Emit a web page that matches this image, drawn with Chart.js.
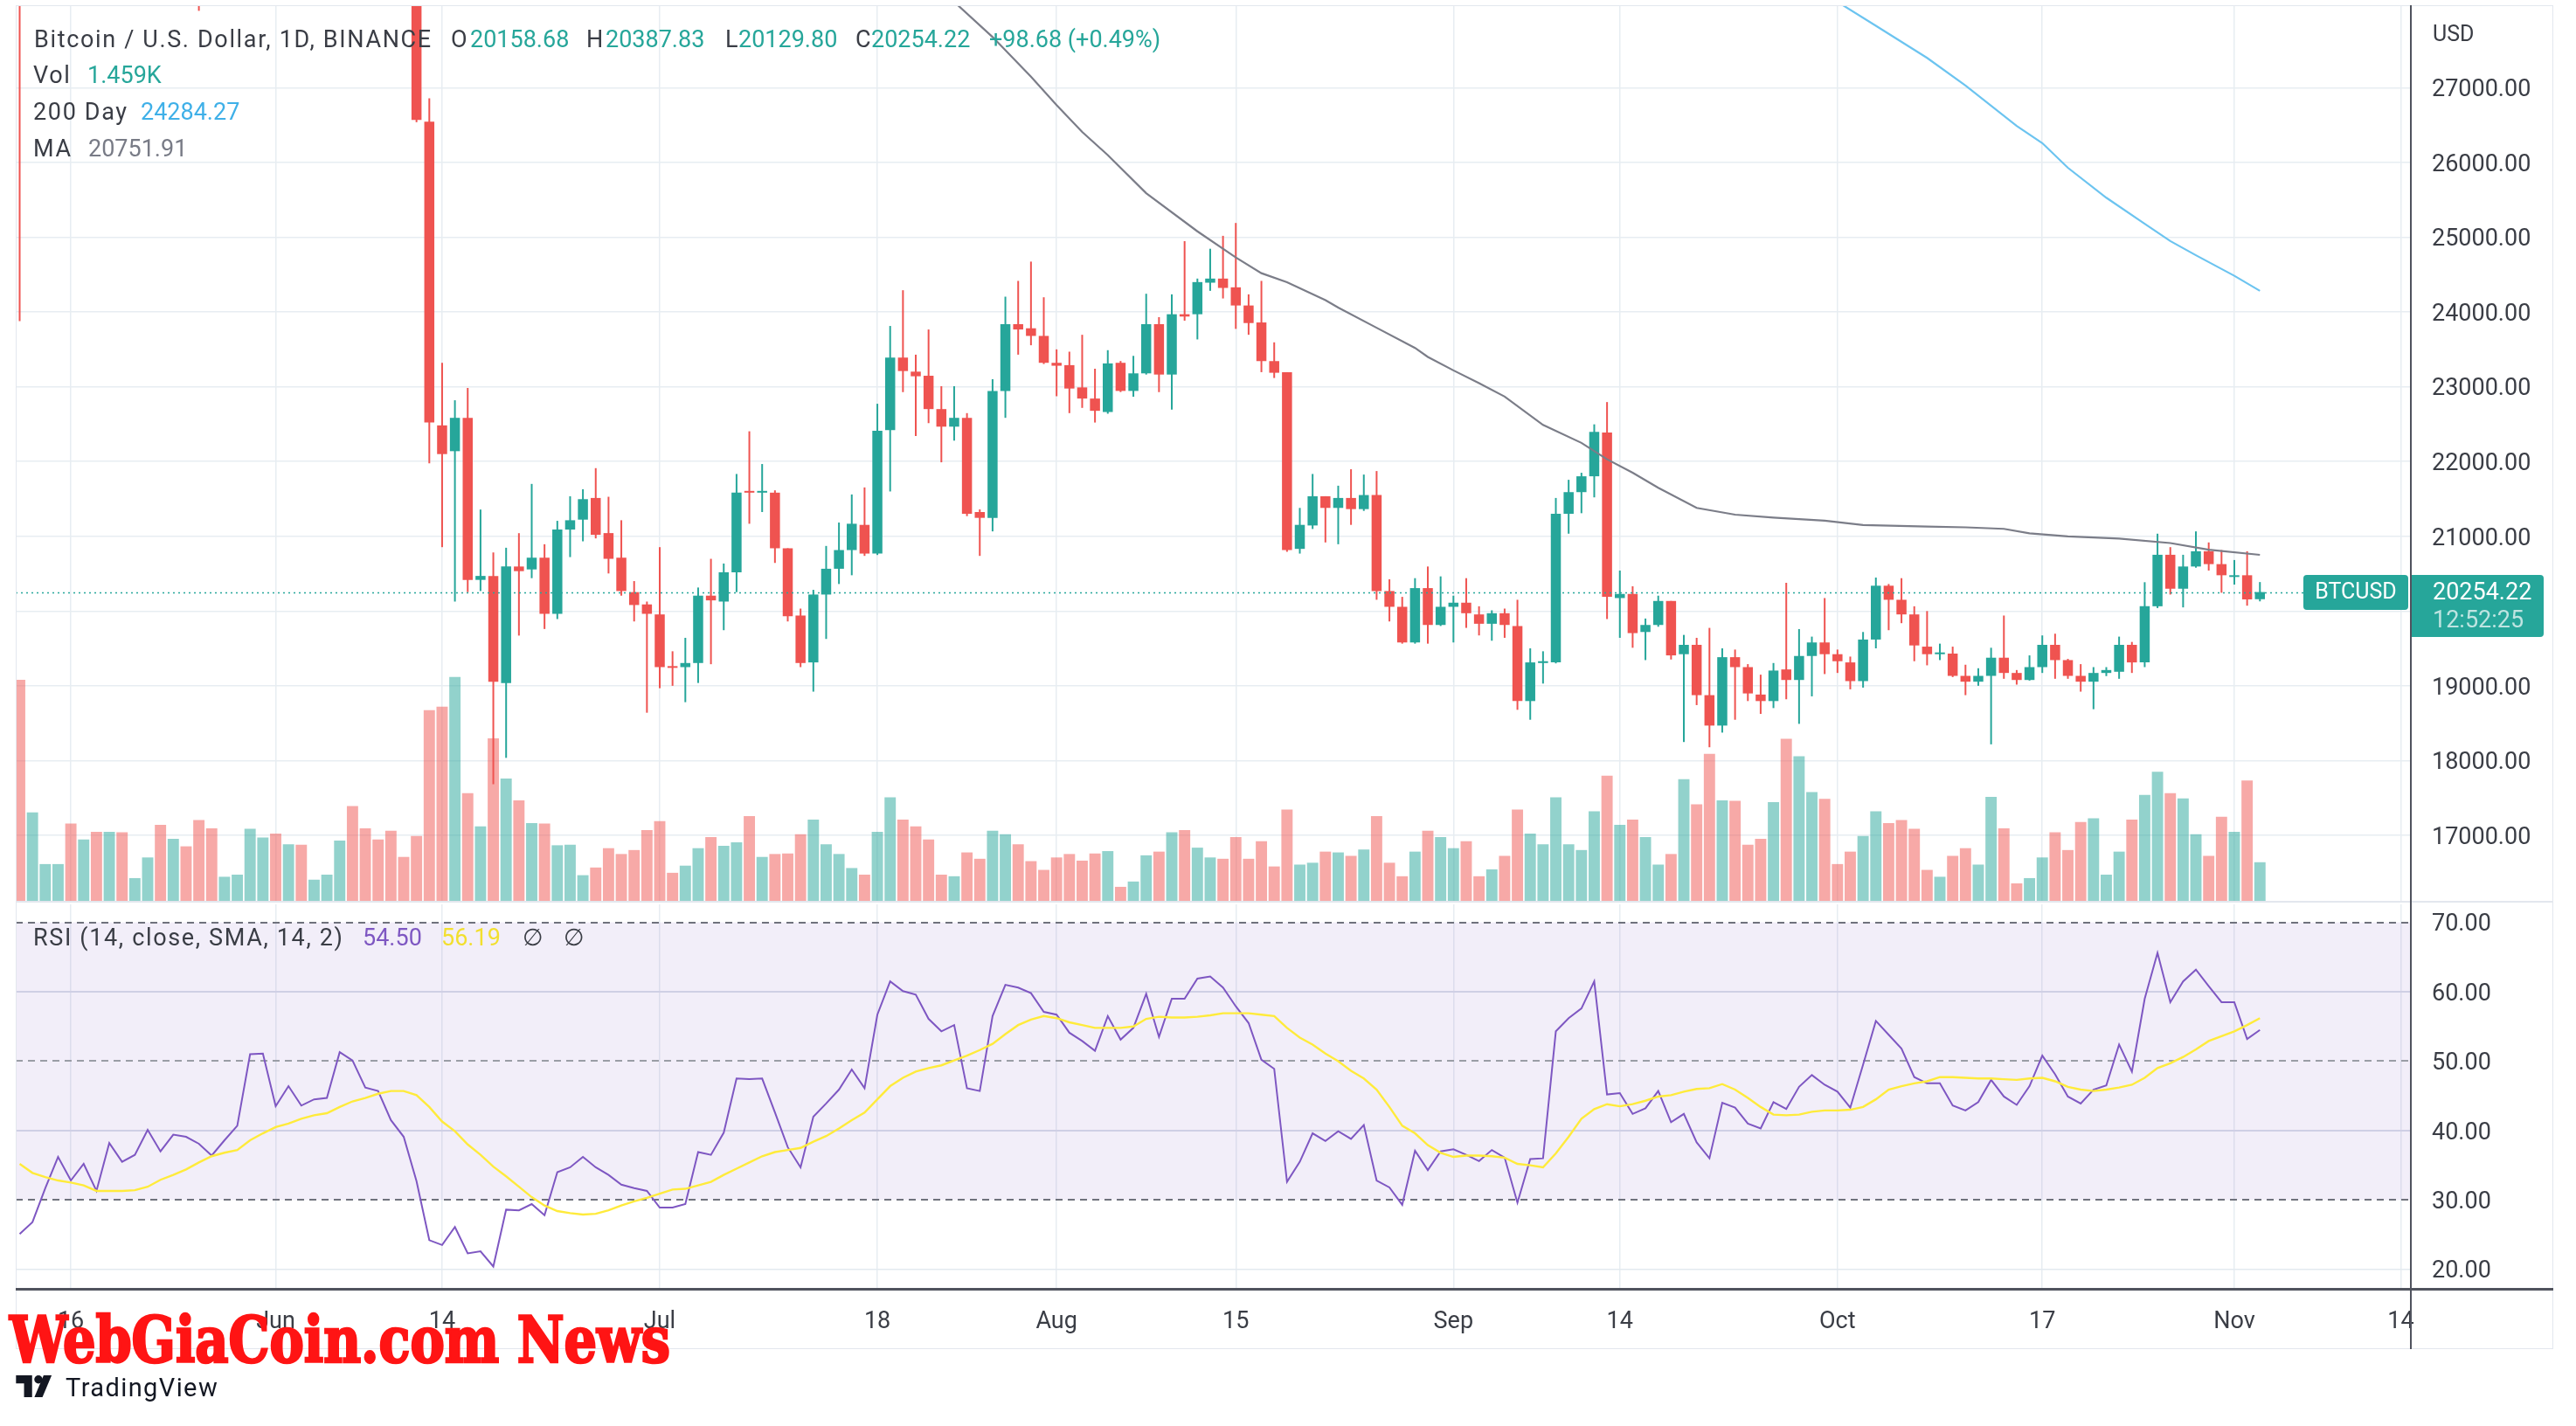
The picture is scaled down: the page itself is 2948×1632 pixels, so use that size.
<!DOCTYPE html>
<html>
<head>
<meta charset="utf-8">
<script src="https://cdn.jsdelivr.net/npm/chart.js@4.4.0/dist/chart.umd.min.js"></script>
<style>
  html, body { margin: 0; padding: 0; background: #fff; overflow: hidden; }
  #wrap { position: relative; width: 2948px; height: 1632px; overflow: hidden; font-family: Roboto, 'DejaVu Sans', sans-serif; }
  canvas { position: absolute; left: 0; }
  .t { position: absolute; font-size: 27px; line-height: 32px; white-space: nowrap; color: #3a3d45; }
  .sp { letter-spacing: 1.65px; }
  .ln { position: absolute; }
  #mark { position: absolute; left: 11px; top: 1494px; font-family: 'DejaVu Serif Condensed', 'DejaVu Serif', serif;
          font-stretch: condensed; font-weight: bold; font-size: 72px; line-height: 80px; color: #ff1414;
          -webkit-text-stroke: 2.6px #ff1414; white-space: nowrap; transform-origin: 0 0; }
  #tv { position: absolute; left: 75px; top: 1571px; font-size: 29px; line-height: 34px; letter-spacing: 1.4px; color: #131722; }
</style>
</head>
<body>
<div id="wrap">
  <canvas id="main" width="2948" height="1033" style="top:0"></canvas>
  <canvas id="rsi" width="2948" height="599" style="top:1033px"></canvas>
  <div class="ln" style="left:18px;top:6px;width:2902px;height:1536px;border:1.5px solid #e3e7ee"></div>
  <div class="ln" style="left:18px;top:1031px;width:2904px;height:2px;background:#e3e7ee"></div>
  <div class="ln" style="left:2758px;top:6px;width:1.5px;height:1538px;background:#50535e"></div>
  <div class="ln" style="left:18px;top:1474px;width:2904px;height:3px;background:#50535e"></div>
  <div id="mark">WebGiaCoin.com News</div>
  <svg style="position:absolute;left:18px;top:1574px" width="48" height="25" viewBox="0 0 36 19">
    <path d="M0 0h14v19H7V7H0z" fill="#131722"/>
    <circle cx="19.5" cy="3.6" r="3.6" fill="#131722"/>
    <path d="M16 19L24 0h7l-8 19z" fill="#131722"/>
  </svg>
  <div id="tv">TradingView</div>
</div>
<script>
// daily candles, index 0 = 12 May 2022, index 175 = 3 Nov 2022
const open = [
  29080, 29030, 29283, 30101, 31305, 29862, 30425, 28715, 30319, 29200,
  29432, 30323, 29098, 29655, 29542, 29201, 28629, 29031, 29468, 31734,
  31801, 29805, 30452, 29700, 29864, 29920, 31373, 31125, 30204, 30109,
  29091, 28424, 26547, 22484, 22139, 22585, 20417, 20470, 19038, 20596,
  20557, 20714, 19963, 21090, 21223, 21513, 21043, 20714, 20253, 20089,
  19955, 19250, 19250, 19305, 20206, 20127, 20519, 21600, 21584, 21584,
  20840, 19940, 19313, 20221, 20566, 20816, 21153, 20769, 22420, 23391,
  23203, 23148, 22702, 22467, 22585, 21325, 21247, 22945, 23838, 23783,
  23681, 23321, 23290, 22992, 22843, 22663, 23321, 22945, 23180, 23838,
  23164, 23971, 23971, 24393, 24448, 24331, 24088, 23861, 23344, 23196,
  20832, 21145, 21536, 21380, 21513, 21364, 21552, 20268, 20057, 19580,
  20307, 19814, 20057, 20112, 19955, 19830, 19971, 19798, 18796, 19305,
  19313, 21301, 21591, 21803, 22389, 20174, 20229, 19720, 19814, 20135,
  19423, 19548, 18875, 18468, 19383, 19250, 18883, 18796, 19219, 19078,
  19399, 19580, 19423, 19313, 19063, 19619, 20339, 20151, 19955, 19524,
  19423, 19431, 19133, 19055, 19133, 19376, 19172, 19078, 19250, 19548,
  19344, 19133, 19055, 19172, 19188, 19548, 19313, 20064, 20753, 20299,
  20596, 20800, 20628, 20456, 20479, 20158.68
];
const high = [
  30030, 30976, 30300, 31460, 31305, 31000, 30670, 30545, 30777, 29600,
  30487, 30670, 29830, 30220, 29860, 29395, 29250, 29540, 32222, 32399,
  31982, 30670, 30690, 29950, 30180, 31765, 31549, 31330, 30700, 30330,
  29440, 28560, 26859, 23321, 22820, 22985, 21358, 20783, 20847, 21042,
  21701, 20894, 21207, 21536, 21630, 21912, 21529, 21215, 20401, 20127,
  20855, 19462, 19642, 20315, 20699, 20636, 21834, 22405, 21967, 21615,
  20840, 20033, 20284, 20871, 21184, 21560, 21654, 22773, 23814, 24292,
  23430, 23767, 23008, 23008, 22648, 21360, 23102, 24206, 24417, 24675,
  24198, 23501, 23470, 23696, 23242, 23490, 23345, 23414, 24245, 23932,
  24237, 24949, 24448, 24847, 25020, 25192, 24237, 24417, 23595, 23196,
  21380, 21834, 21536, 21677, 21897, 21826, 21873, 20425, 20190, 20440,
  20596, 20464, 20206, 20440, 20064, 20010, 20033, 20151, 19501, 19462,
  21513, 21756, 21850, 22498, 22796, 20542, 20331, 19900, 20206, 20135,
  19681, 19642, 19775, 19501, 19485, 19290, 19149, 19305, 20378, 19759,
  19658, 20174, 19485, 19391, 19720, 20448, 20362, 20440, 20064, 20000,
  19564, 19524, 19282, 19235, 19509, 19940, 19211, 19407, 19674, 19697,
  19360, 19290, 19250, 19250, 19658, 19587, 20386, 21035, 20855, 20753,
  21066, 20918, 20816, 20683, 20800, 20387.83
];
const low = [
  23880, 28751, 28600, 29480, 29090, 29440, 28650, 28690, 28730, 28950,
  29230, 28890, 28630, 29300, 28030, 28280, 28500, 28850, 29300, 31200,
  29360, 29600, 29300, 29480, 29500, 29880, 29218, 29850, 29940, 28850,
  28150, 26540, 21976, 20855, 20127, 20253, 20268, 17684, 18036, 19672,
  20440, 19760, 19893, 20722, 20933, 20972, 20503, 20206, 19861, 18640,
  18968, 19000, 18781, 19038, 19289, 19744, 20253, 21168, 21325, 20644,
  19861, 19250, 18922, 19627, 20362, 20479, 20738, 20750, 21600, 22929,
  22342, 22514, 21990, 22280, 21270, 20738, 21066, 22585, 23430, 23556,
  23305, 22874, 22648, 22718, 22522, 22640, 22930, 22867, 23164, 22929,
  22695, 23885, 23634, 24284, 24182, 23775, 23696, 23196, 23118, 20793,
  20769, 21098, 20918, 20894, 21153, 21340, 20151, 19861, 19564, 19564,
  19564, 19800, 19580, 19775, 19674, 19603, 19642, 18679, 18546, 19030,
  19300, 21035, 21309, 21521, 19893, 19642, 19509, 19344, 19790, 19352,
  18248, 18742, 18178, 18374, 18546, 18796, 18624, 18702, 18820, 18491,
  18859, 19157, 19172, 18953, 18976, 19501, 19744, 19838, 19329, 19274,
  19344, 19117, 18875, 19000, 18217, 19094, 19016, 19070, 19172, 19094,
  19094, 18922, 18687, 19130, 19094, 19172, 19250, 20040, 20221, 20049,
  20580, 20542, 20245, 20354, 20072, 20129.80
];
const close = [
  29030, 29283, 30101, 31305, 29862, 30425, 28715, 30319, 29200, 29432,
  30323, 29098, 29655, 29542, 29201, 28629, 29031, 29468, 31734, 31801,
  29805, 30452, 29700, 29864, 29920, 31373, 31125, 30204, 30109, 29091,
  28424, 26570, 22523, 22100, 22585, 20417, 20470, 19053, 20596, 20534,
  20714, 19963, 21090, 21215, 21497, 21020, 20699, 20268, 20081, 19963,
  19250, 19240, 19305, 20206, 20143, 20519, 21584, 21584, 21600, 20840,
  19932, 19305, 20221, 20566, 20816, 21168, 20769, 22412, 23391, 23211,
  23141, 22702, 22467, 22585, 21301, 21247, 22945, 23838, 23767, 23681,
  23321, 23282, 22977, 22843, 22679, 23313, 22945, 23180, 23838, 23164,
  23971, 23940, 24401, 24448, 24323, 24088, 23853, 23344, 23188, 20816,
  21153, 21536, 21380, 21513, 21364, 21552, 20268, 20057, 19580, 20307,
  19814, 20057, 20112, 19971, 19830, 19971, 19814, 18796, 19313, 19329,
  21301, 21591, 21803, 22397, 20190, 20229, 19705, 19814, 20135, 19407,
  19548, 18875, 18468, 19383, 19250, 18898, 18796, 19204, 19078, 19399,
  19580, 19423, 19329, 19063, 19619, 20339, 20151, 19955, 19540, 19423,
  19446, 19133, 19055, 19133, 19376, 19172, 19078, 19250, 19548, 19344,
  19133, 19055, 19172, 19211, 19548, 19313, 20064, 20753, 20299, 20596,
  20800, 20628, 20479, 20479, 20155.54, 20254.22
];
// volume in thousands of BTC
const volume = [
  8.35, 3.34, 1.39, 1.39, 2.92, 2.32, 2.61, 2.61, 2.59, 0.86,
  1.64, 2.87, 2.34, 2.06, 3.05, 2.74, 0.91, 0.99, 2.72, 2.39,
  2.54, 2.14, 2.12, 0.80, 0.99, 2.28, 3.58, 2.74, 2.32, 2.65,
  1.66, 2.45, 7.20, 7.34, 8.46, 4.07, 2.81, 6.14, 4.62, 3.80,
  2.94, 2.92, 2.10, 2.12, 0.97, 1.26, 1.99, 1.77, 1.92, 2.67,
  3.01, 1.06, 1.33, 1.99, 2.41, 2.08, 2.21, 3.20, 1.66, 1.77,
  1.79, 2.52, 3.07, 2.14, 1.77, 1.24, 0.99, 2.61, 3.91, 3.07,
  2.81, 2.32, 0.99, 0.93, 1.83, 1.59, 2.65, 2.52, 2.14, 1.50,
  1.17, 1.64, 1.77, 1.52, 1.79, 1.88, 0.53, 0.73, 1.72, 1.86,
  2.59, 2.67, 2.01, 1.64, 1.59, 2.41, 1.59, 2.25, 1.30, 3.45,
  1.37, 1.44, 1.86, 1.83, 1.70, 1.94, 3.20, 1.44, 0.93, 1.86,
  2.65, 2.41, 1.99, 2.25, 0.93, 1.19, 1.70, 3.45, 2.54, 2.14,
  3.91, 2.14, 1.92, 3.38, 4.73, 2.87, 3.07, 2.41, 1.37, 1.77,
  4.60, 3.65, 5.55, 3.80, 3.78, 2.12, 2.34, 3.73, 6.12, 5.46,
  4.11, 3.85, 1.39, 1.86, 2.45, 3.38, 2.94, 3.05, 2.72, 1.17,
  0.91, 1.70, 1.99, 1.37, 3.93, 2.74, 0.66, 0.86, 1.64, 2.59,
  1.92, 2.98, 3.12, 0.99, 1.86, 3.07, 4.00, 4.88, 4.07, 3.87,
  2.52, 1.70, 3.18, 2.61, 4.55, 1.459
];
const rsi = [
  25.1, 26.8, 31.7, 36.2, 32.8, 35.2, 31.3, 38.2, 35.5, 36.5,
  40.1, 37.0, 39.4, 39.1, 38.1, 36.4, 38.6, 40.7, 51.0, 51.1,
  43.5, 46.4, 43.6, 44.5, 44.7, 51.3, 50.1, 46.2, 45.7, 41.5,
  39.1, 32.7, 24.2, 23.5, 26.1, 22.3, 22.6, 20.4, 28.6, 28.5,
  29.4, 27.8, 34.0, 34.7, 36.2, 34.7, 33.6, 32.2, 31.7, 31.3,
  28.9, 28.9, 29.4, 36.9, 36.5, 39.7, 47.5, 47.4, 47.5, 42.6,
  37.6, 34.7, 42.0, 43.9, 45.9, 48.8, 46.1, 56.7, 61.5, 60.1,
  59.6, 56.1, 54.3, 55.2, 46.1, 45.7, 56.5, 61.0, 60.6, 59.8,
  57.1, 56.7, 54.1, 52.9, 51.5, 56.5, 53.1, 54.8, 59.7, 53.5,
  59.0, 59.0, 61.9, 62.2, 60.6, 57.9, 55.5, 50.2, 48.9, 32.6,
  35.5, 39.6, 38.5, 39.9, 38.8, 40.8, 32.8, 31.8, 29.3, 37.1,
  34.3, 37.0, 37.3, 36.5, 35.6, 37.2, 36.1, 29.6, 35.9, 36.0,
  54.3, 56.2, 57.6, 61.5, 45.2, 45.4, 42.4, 43.2, 45.7, 41.2,
  42.4, 38.3, 36.0, 44.0, 43.3, 41.0, 40.3, 44.1, 43.1, 46.3,
  48.0, 46.6, 45.6, 43.3, 49.5, 55.8, 53.8, 51.8, 47.7, 46.8,
  46.8, 43.6, 42.9, 44.1, 47.3, 44.9, 43.7, 46.4, 50.8, 48.1,
  44.9, 43.9, 45.9, 46.5, 52.4, 48.5, 59.0, 65.6, 58.5, 61.5,
  63.2, 60.8, 58.5, 58.5, 53.2, 54.50
];
const rsiSma = [
  35.2, 33.9, 33.3, 32.8, 32.5, 32.1, 31.3, 31.3, 31.3, 31.4,
  31.9, 32.9, 33.6, 34.4, 35.4, 36.3, 36.8, 37.2, 38.6, 39.6,
  40.5, 41.0, 41.7, 42.2, 42.5, 43.4, 44.2, 44.7, 45.3, 45.7,
  45.7, 45.1, 43.4, 41.3, 39.9, 38.0, 36.5, 34.8, 33.4, 31.9,
  30.4, 29.2, 28.4, 28.1, 27.9, 28.0, 28.5, 29.2, 29.8, 30.3,
  30.9, 31.5, 31.6, 32.1, 32.6, 33.6, 34.5, 35.4, 36.3, 36.9,
  37.2, 37.5, 38.4, 39.2, 40.3, 41.5, 42.6, 44.5, 46.4, 47.6,
  48.5, 49.0, 49.4, 50.1, 50.8, 51.6, 52.5, 53.9, 55.2, 56.0,
  56.5, 56.2, 55.6, 55.2, 54.8, 54.8, 54.8, 55.0, 56.1, 56.4,
  56.3, 56.3, 56.4, 56.6, 56.9, 56.9, 56.9, 56.7, 56.5, 54.8,
  53.4, 52.4, 51.1, 50.0, 48.6, 47.5, 45.9, 43.4, 40.7, 39.6,
  37.9, 36.8, 36.2, 36.4, 36.4, 36.3, 36.1, 35.2, 35.0, 34.7,
  36.7, 39.1, 41.7, 43.1, 43.8, 43.5, 43.8, 44.3, 44.9, 45.1,
  45.6, 46.0, 46.1, 46.7, 45.9, 44.7, 43.4, 42.3, 42.2, 42.3,
  42.7, 42.9, 42.9, 43.0, 43.4, 44.5, 45.9, 46.4, 46.8, 47.1,
  47.7, 47.7, 47.6, 47.5, 47.5, 47.4, 47.3, 47.5, 47.6, 47.1,
  46.3, 45.9, 45.7, 45.9, 46.2, 46.6, 47.6, 49.0, 49.7, 50.6,
  51.7, 52.9, 53.6, 54.3, 55.2, 56.19
];
// moving averages, read at the candle index where they were picked off the picture
const ma200Idx = [142, 145, 149, 152, 156, 158, 160, 163, 166, 168, 170, 173, 175];
const ma200Val = [28150, 27830, 27400, 27030, 26490, 26260, 25930, 25530, 25180, 24950, 24760, 24485, 24284.27];
const maIdx = [72, 73, 76, 79, 81, 83, 85, 88, 92, 95, 97, 99, 102, 103, 106, 109, 110, 112, 114, 116,
  119, 122, 124, 126, 128, 131, 134, 137, 141, 144, 149, 152, 155, 157, 160, 164, 168, 171, 175];
const maVal = [28300, 28150, 27680, 27150, 26770, 26410, 26100, 25590, 25080, 24730, 24520, 24400, 24160, 24060,
  23790, 23520, 23400, 23220, 23050, 22870, 22490, 22250, 22030, 21850, 21650, 21380, 21290, 21250, 21210,
  21150, 21130, 21120, 21100, 21040, 21000, 20970, 20910, 20820, 20751.91];

const tickIdx = [4, 20, 33, 50, 67, 81, 95, 112, 125, 142, 158, 173, 186];
const tickText = ['16', 'Jun', '14', 'Jul', '18', 'Aug', '15', 'Sep', '14', 'Oct', '17', 'Nov', '14'];
const priceTicks = [17000, 18000, 19000, 20000, 21000, 22000, 23000, 24000, 25000, 26000, 27000];
const rsiTicks = [20, 30, 40, 50, 60, 70];

const X_MIN = -0.307, X_MAX = 186.79;
const UP = '#26a69a', DOWN = '#ef5350';
const GRID = '#e7edf2';
const TXT = '#3a3d45';
const N = close.length;
const last = N - 1;

Chart.defaults.font.family = "Roboto, 'DejaVu Sans', sans-serif";
Chart.defaults.color = TXT;

const isUp = close.map((c, i) => c >= open[i]);
const candleColor = isUp.map(u => u ? UP : DOWN);
const volColor = isUp.map(u => u ? 'rgba(38,166,154,0.5)' : 'rgba(239,83,80,0.5)');

function timeAxis(withLabels) {
  return {
    type: 'linear', min: X_MIN, max: X_MAX, bounds: 'data', offset: false,
    afterBuildTicks: s => { s.ticks = tickIdx.map(v => ({ value: v })); },
    afterFit: s => { s.height = withLabels ? 69 : 0; s.paddingLeft = 0; s.paddingRight = 0; },
    grid: { color: GRID, lineWidth: 1.5, drawTicks: false, offset: false },
    border: { display: false },
    ticks: {
      display: withLabels, autoSkip: false, maxRotation: 0, padding: 22,
      font: { size: 27 }, color: TXT,
      callback: (v, i) => tickText[i]
    }
  };
}

function valueAxis(min, max, ticks, gridColor) {
  return {
    position: 'right', min, max, bounds: 'data',
    afterBuildTicks: s => { s.ticks = ticks.map(v => ({ value: v })); },
    afterFit: s => { s.width = 189; s.paddingTop = 0; s.paddingBottom = 0; },
    grid: { color: gridColor, lineWidth: c => (c.tick && (c.tick.value === 40 || c.tick.value === 60) && max < 100) ? 2 : 1.5, drawTicks: false },
    border: { display: false },
    ticks: { padding: 24, labelOffset: 3, autoSkip: false, font: { size: 27 }, color: TXT, callback: v => Number(v).toFixed(2) }
  };
}

// dotted last-price line plus the two teal labels on the price scale
const priceTag = {
  id: 'priceTag',
  afterDatasetsDraw(chart) {
    const { ctx, chartArea: a, scales: { y } } = chart;
    const yc = Math.round(y.getPixelForValue(close[last])) + 0.5;
    ctx.save();
    ctx.strokeStyle = UP; ctx.lineWidth = 1.6; ctx.setLineDash([2, 4]);
    ctx.beginPath(); ctx.moveTo(a.left, yc); ctx.lineTo(a.right - 123, yc); ctx.stroke();
    ctx.restore();
  },
  afterDraw(chart) {
    const { ctx, chartArea: a, scales: { y } } = chart;
    const yc = y.getPixelForValue(close[last]);
    ctx.save();
    ctx.fillStyle = UP;
    ctx.beginPath(); ctx.roundRect(a.right - 123, yc - 19.5, 120, 40, 4); ctx.fill();
    ctx.beginPath(); ctx.roundRect(a.right, yc - 19.5, 152, 71, [0, 4, 4, 0]); ctx.fill();
    ctx.fillStyle = '#fff'; ctx.textBaseline = 'middle';
    ctx.textAlign = 'center';
    ctx.font = "25px Roboto, 'DejaVu Sans', sans-serif";
    ctx.fillText('BTCUSD', a.right - 63, yc + 1);
    ctx.textAlign = 'left';
    ctx.font = "27px Roboto, 'DejaVu Sans', sans-serif";
    ctx.fillText(close[last].toFixed(2), a.right + 25, yc + 2);
    ctx.fillStyle = 'rgba(255,255,255,0.7)';
    ctx.fillText('12:52:25', a.right + 25, yc + 34);
    ctx.restore();
  }
};

new Chart(document.getElementById('main'), {
  type: 'bar',
  data: {
    datasets: [
      {
        type: 'bar', label: 'Vol', yAxisID: 'yVol', order: 5, grouped: false, clip: 0,
        data: volume.map((v, i) => ({ x: i, y: v })),
        backgroundColor: volColor, categoryPercentage: 1, barPercentage: 0.88
      },
      {
        type: 'bar', label: 'wick', yAxisID: 'y', order: 3, grouped: false, clip: 0,
        data: high.map((h, i) => ({ x: i, y: [low[i], h] })),
        backgroundColor: candleColor, maxBarThickness: 2
      },
      {
        type: 'bar', label: 'body', yAxisID: 'y', order: 2, grouped: false, clip: 0, minBarLength: 2,
        data: open.map((o, i) => ({ x: i, y: [o, close[i]] })),
        backgroundColor: candleColor, categoryPercentage: 1, barPercentage: 0.8, maxBarThickness: 11.5
      },
      {
        type: 'line', label: '200 Day', yAxisID: 'y', order: 1, clip: 0,
        data: ma200Idx.map((x, k) => ({ x, y: ma200Val[k] })),
        borderColor: '#6cc4f0', borderWidth: 2.2, pointRadius: 0, tension: 0
      },
      {
        type: 'line', label: 'MA', yAxisID: 'y', order: 1, clip: 0,
        data: maIdx.map((x, k) => ({ x, y: maVal[k] })),
        borderColor: '#7b7d88', borderWidth: 2.2, pointRadius: 0, tension: 0
      }
    ]
  },
  options: {
    responsive: false, animation: false,
    layout: { padding: { left: 18, top: 7, right: 0, bottom: 2 } },
    plugins: { legend: { display: false }, tooltip: { enabled: false } },
    scales: {
      x: timeAxis(false),
      y: valueAxis(16123, 28093, priceTicks, GRID),
      yVol: { display: false, min: 0, max: 33.8 }
    }
  },
  plugins: [priceTag]
});

// RSI pane: 30-70 band and the dashed levels
const rsiBands = {
  id: 'rsiBands',
  beforeDatasetsDraw(chart) {
    const { ctx, chartArea: a, scales: { y } } = chart;
    const y70 = y.getPixelForValue(70), y30 = y.getPixelForValue(30);
    ctx.save();
    ctx.fillStyle = 'rgba(126,87,194,0.1)';
    ctx.fillRect(a.left, y70, a.right - a.left, y30 - y70);
    ctx.lineWidth = 2; ctx.setLineDash([8, 6]);
    [[70, '#6f727c'], [50, '#9a9da6'], [30, '#6f727c']].forEach(([v, c]) => {
      const yy = Math.round(y.getPixelForValue(v));
      ctx.strokeStyle = c;
      ctx.beginPath(); ctx.moveTo(a.left, yy); ctx.lineTo(a.right, yy); ctx.stroke();
    });
    ctx.restore();
  }
};

new Chart(document.getElementById('rsi'), {
  type: 'line',
  data: {
    datasets: [
      {
        label: 'RSI', data: rsi.map((v, i) => ({ x: i, y: v })), clip: 0, order: 2,
        borderColor: '#7e57c2', borderWidth: 2, pointRadius: 0, tension: 0
      },
      {
        label: 'SMA', data: rsiSma.map((v, i) => ({ x: i, y: v })), clip: 0, order: 1,
        borderColor: '#ffeb3b', borderWidth: 2.4, pointRadius: 0, tension: 0
      }
    ]
  },
  options: {
    responsive: false, animation: false,
    layout: { padding: { left: 18, top: 2, right: 0, bottom: 88 } },
    plugins: { legend: { display: false }, tooltip: { enabled: false } },
    scales: {
      x: timeAxis(true),
      y: valueAxis(17.19, 72.6, rsiTicks, c => {
        const v = c.tick ? c.tick.value : 0;
        if (v === 30 || v === 50 || v === 70) return 'rgba(0,0,0,0)';
        return v === 20 ? '#e3eaf0' : '#d8dde9';
      })
    }
  },
  plugins: [rsiBands]
});

// legends as text
const wrap = document.getElementById('wrap');
function label(text, left, cy, color, spaced, size) {
  const el = document.createElement('div');
  el.className = 't' + (spaced ? ' sp' : '');
  el.textContent = text;
  el.style.left = left + 'px';
  el.style.top = (cy - 16) + 'px';
  if (color) el.style.color = color;
  if (size) { el.style.fontSize = size + 'px'; }
  wrap.appendChild(el);
}
const lastCol = isUp[last] ? UP : DOWN;
const chg = close[last] - close[last - 1];
const pct = chg / close[last - 1] * 100;
label('Bitcoin / U.S. Dollar, 1D, BINANCE', 39, 45, null, true);
label('O', 516, 45); label(open[last].toFixed(2), 538, 45, lastCol);
label('H', 671, 45); label(high[last].toFixed(2), 693, 45, lastCol);
label('L', 830, 45); label(low[last].toFixed(2), 845, 45, lastCol);
label('C', 979, 45); label(close[last].toFixed(2), 997, 45, lastCol);
label((chg >= 0 ? '+' : '') + chg.toFixed(2) + ' (' + (pct >= 0 ? '+' : '') + pct.toFixed(2) + '%)', 1132, 45, lastCol);
label('Vol', 38, 86, null, true); label(volume[last].toFixed(3) + 'K', 100, 86, lastCol);
label('200 Day', 38, 128, null, true); label(ma200Val[ma200Val.length - 1].toFixed(2), 161, 128, '#3fb0e8');
label('MA', 38, 170, null, true); label(maVal[maVal.length - 1].toFixed(2), 101, 170, '#787b86');
label('USD', 2784, 39, null, false, 25);
label('RSI (14, close, SMA, 14, 2)', 38, 1073, null, true);
label(rsi[last].toFixed(2), 415, 1073, '#7e57c2');
label(rsiSma[last].toFixed(2), 505, 1073, '#f2df2e');
label('\u2205', 598, 1073); label('\u2205', 645, 1073);

// fit the red watermark to its box
const mark = document.getElementById('mark');
const mw = mark.getBoundingClientRect().width;
mark.style.transform = 'scaleX(' + (756 / mw) + ')';
</script>
</body>
</html>
